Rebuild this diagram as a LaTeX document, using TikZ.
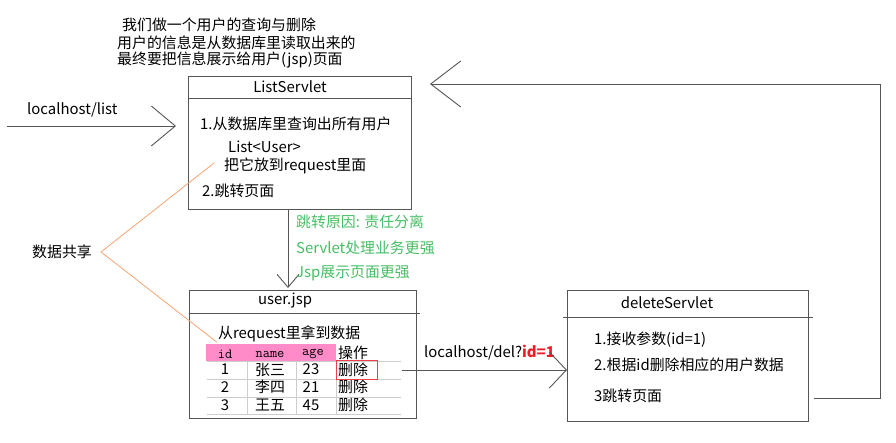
\documentclass[tikz,border=0pt]{standalone}
\usepackage{fontspec}
\setmainfont{Noto Sans CJK SC}
\usetikzlibrary{arrows.meta,positioning}
\definecolor{linegray}{RGB}{85,85,85}
\definecolor{sharecol}{RGB}{247,165,115}
\definecolor{notegreen}{RGB}{70,190,100}
\definecolor{headpink}{RGB}{255,140,200}
\definecolor{gridgray}{RGB}{205,205,205}
\definecolor{delred}{RGB}{235,30,40}
\tikzset{
  box/.style={draw=linegray, line width=1pt, anchor=north west, inner sep=0pt},
  txt/.style={anchor=west, inner sep=0pt, font=\fontsize{14.9}{17}\selectfont},
  cell/.style={inner sep=0pt, font=\fontsize{14.9}{17}\selectfont},
  mono/.style={inner sep=0pt, font=\ttfamily\fontsize{14}{16}\selectfont},
  link/.style={draw=linegray, line width=0.9pt},
  barb/.style={-{Straight Barb[#1]}}
}

\begin{document}
\begin{tikzpicture}[x=1pt,y=-1pt]
\useasboundingbox (0,0) rectangle (896,443);

% notes on top
\node[txt] (note1) at (122,25) {我们做一个用户的查询与删除};
\node[txt] (note2) at (117,43) {用户的信息是从数据库里读取出来的};
\node[txt] (note3) at (117,60) {最终要把信息展示给用户(jsp)页面};

% ListServlet
\node[box, minimum width=223pt, minimum height=133pt] (list) at (188,76) {};
\draw[link] ([yshift=-22pt]list.north west) -- ([yshift=-22pt]list.north east);
\node[cell] (listtitle) at ([xshift=-10pt,yshift=-11pt]list.north) {ListServlet};
\node[txt] (query) at (200,124) {1.从数据库里查询出所有用户};
\node[txt] (userlist) at (228,147) {List<User>};
\node[txt] (put) at (224,166) {把它放到request里面};
\node[txt] (jump) at (202,191) {2.跳转页面};

% request from browser
\coordinate (in) at (7,126);
\node[txt] (inlabel) at (27,110) {localhost/list};
\draw[link, barb={length=24pt,width=40pt}] (in) -- ([xshift=-12pt]list.west |- in);

% user.jsp
\node[box, minimum width=227pt, minimum height=128pt] (jsp) at (189,290) {};
\draw[link] ([yshift=-23pt]jsp.north west) -- ([xshift=3pt,yshift=-23pt]jsp.north east);
\node[cell] (jsptitle) at (285,301) {user.jsp};
\node[txt] (fetch) at (218,334) {从request里拿到数据};

% forward
\draw[link, barb={length=13pt,width=22pt}] ([xshift=-12pt]list.south) -- ([xshift=-12pt,yshift=2pt]list.south |- jsp.north);
\node[txt, text=notegreen] (why1) at (296,222) {跳转原因: 责任分离};
\node[txt, text=notegreen] (why2) at (296,248) {Servlet处理业务更强};
\node[txt, text=notegreen] (why3) at (296,273) {Jsp展示页面更强};

% table
\fill[headpink] (206,344) rectangle (336,361);
\node[mono] (hid) at (225,354) {id};
\node[mono] (hname) at (270,354) {name};
\node[mono] (hage) at (313,354) {age};
\node[cell, anchor=west] (hop) at (338,353) {操作};
\foreach \y in {361,379,397,414}
  \draw[gridgray, line width=0.8pt] (207,\y) -- (401,\y);
\foreach \x in {247,296,336}
  \draw[gridgray, line width=0.8pt] (\x,361) -- (\x,414);
\foreach \id/\name/\age [count=\r] in {1/张三/23, 2/李四/21, 3/王五/45} {
  \node[cell] (id\r) at (225,352+17.6*\r) {\id};
  \node[cell] (name\r) at (270,352+17.6*\r) {\name};
  \node[cell] (age\r) at (311,352+17.6*\r) {\age};
  \node[cell, anchor=west] (op\r) at (338,352+17.6*\r) {删除};
}
\draw[delred!85, line width=0.9pt] (336,360.5) rectangle (377,379.5);

% deleteServlet
\node[box, minimum width=241pt, minimum height=131pt] (del) at (567,290) {};
\draw[link] ([xshift=-4pt,yshift=-27pt]del.north west) -- ([xshift=4pt,yshift=-27pt]del.north east);
\node[cell] (deltitle) at (667,303) {deleteServlet};
\node[txt] (recv) at (594,340) {1.接收参数(id=1)};
\node[txt] (remove) at (594,365) {2.根据id删除相应的用户数据};
\node[txt] (back) at (594,396) {3跳转页面};

% delete request
\coordinate (row1) at (402,370);
\node[txt] (dellabel) at (424,353) {localhost/del?\textcolor{delred}{\bfseries id=1}};
\draw[link, barb={length=17pt,width=36pt}] (row1) -- (row1 -| del.west);

% back to the list
\coordinate (ret) at (814,398);
\draw[link, barb={length=30pt,width=46pt}] (ret) -- (880,398) -- (880,84) -- ([xshift=18pt]list.east |- 0,84);

% shared data
\node[txt, anchor=east] (share) at (92,252) {数据共享};
\draw[sharecol, line width=0.8pt] ([xshift=-10pt,yshift=3pt]put.west) -- ([xshift=9pt]share.east) -- ([xshift=-1pt]fetch.south west);

\end{tikzpicture}
\end{document}
